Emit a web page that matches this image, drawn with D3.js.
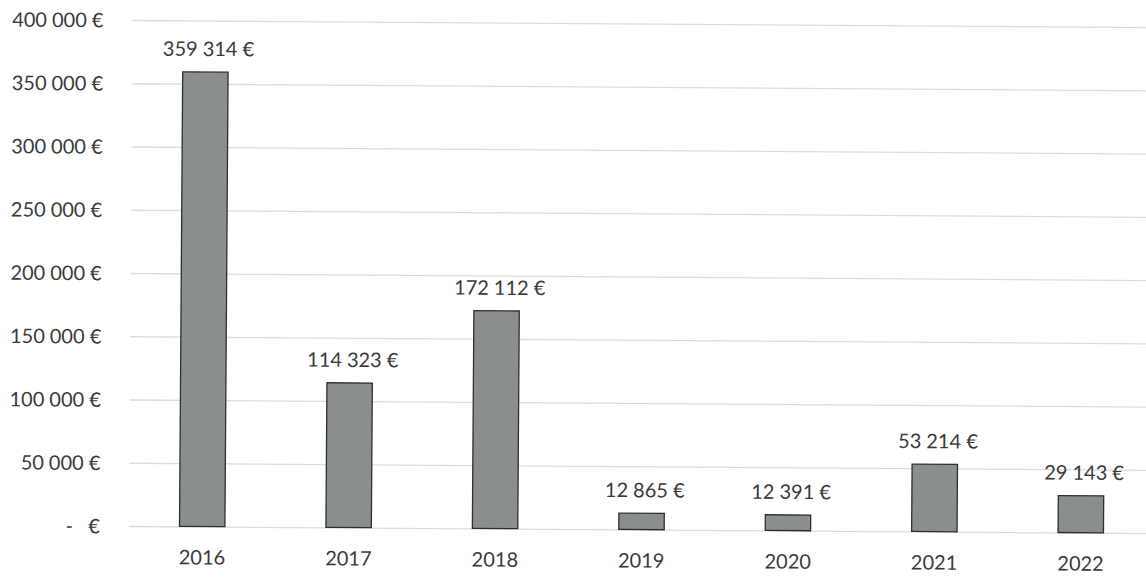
<!DOCTYPE html>
<html>
<head>
<meta charset="utf-8">
<script src="https://cdn.jsdelivr.net/npm/d3@7"></script>
<style>
  html, body { margin: 0; padding: 0; background: #fff; }
  svg { display: block; }
  text { font-family: Lato, "Open Sans", sans-serif; fill: #3a3a3a; }
</style>
</head>
<body>
<svg id="chart" width="1146" height="578"></svg>
<script>
// Yearly amounts in euros
const years = ["2016", "2017", "2018", "2019", "2020", "2021", "2022"];
const amounts = [359314, 114323, 172112, 12865, 12391, 53214, 29143];
const yTicks = [0, 50000, 100000, 150000, 200000, 250000, 300000, 350000, 400000];

const plotLeft = 129, plotRight = 1154, plotTop = 20, plotBottom = 526;

const fr = d3.formatLocale({ decimal: ",", thousands: "\u202F", grouping: [3], currency: ["", "\u00A0€"] });
const fmtNum = fr.format(",.0f");
const euro = v => v === 0 ? "-\u00A0\u00A0\u00A0€" : fmtNum(v) + "\u00A0€";

const svg = d3.select("#chart");
// whole chart sits very slightly tilted, like a page laid on a scanner
const g = svg.append("g").attr("transform", `rotate(0.4, ${plotLeft}, ${plotBottom})`);

const x = d3.scaleBand().domain(years).range([plotLeft, plotRight]).paddingInner(0.69).paddingOuter(0.345);
const y = d3.scaleLinear().domain([0, 400000]).range([plotBottom, plotTop]);

// horizontal gridlines with the value labels on the left
const yAxis = d3.axisLeft(y).tickValues(yTicks).tickFormat(euro).tickSize(0).tickPadding(0);
const ya = g.append("g").attr("transform", `translate(${plotLeft},0)`).call(yAxis);
ya.select(".domain").remove();
ya.selectAll(".tick line")
  .attr("x1", 0).attr("x2", plotRight - plotLeft)
  .attr("stroke", "#d9dce6").attr("stroke-width", 1.3);
ya.selectAll(".tick text")
  .attr("x", -29).attr("dy", "0.35em")
  .style("font-size", "20px").style("font-family", "Lato, sans-serif").attr("fill", "#3a3a3a");

// bars
g.selectAll("rect.bar").data(years).join("rect")
  .attr("class", "bar")
  .attr("x", d => x(d))
  .attr("width", x.bandwidth())
  .attr("y", (d, i) => y(amounts[i]))
  .attr("height", (d, i) => y(0) - y(amounts[i]))
  .attr("fill", "#8b8f8b")
  .attr("stroke", "#2e302e")
  .attr("stroke-width", 1.3);

// value labels above bars
g.selectAll("text.val").data(years).join("text")
  .attr("class", "val")
  .attr("x", d => x(d) + x.bandwidth() / 2 + 3)
  .attr("y", (d, i) => y(amounts[i]) - 16)
  .attr("text-anchor", "middle")
  .style("font-size", "20px")
  .text((d, i) => euro(amounts[i]));

// category axis labels
const xAxis = d3.axisBottom(x).tickSize(0).tickPadding(0);
const xa = g.append("g").attr("transform", `translate(0,${plotBottom})`).call(xAxis);
xa.select(".domain").remove();
xa.selectAll(".tick text")
  .attr("y", 31).attr("dy", "0.35em")
  .style("font-size", "20px").style("font-family", "Lato, sans-serif").attr("fill", "#3a3a3a");
</script>
</body>
</html>
